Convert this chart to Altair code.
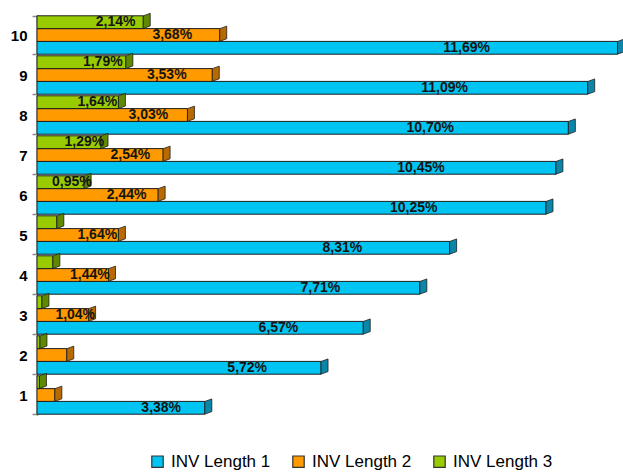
import altair as alt
import pandas as pd

categories = ["1", "2", "3", "4", "5", "6", "7", "8", "9", "10"]
series_names = ["INV Length 1", "INV Length 2", "INV Length 3"]
length1 = [3.38, 5.72, 6.57, 7.71, 8.31, 10.25, 10.45, 10.70, 11.09, 11.69]
length2 = [0.36, 0.60, 1.04, 1.44, 1.64, 2.44, 2.54, 3.03, 3.53, 3.68]
length3 = [0.05, 0.06, 0.10, 0.32, 0.40, 0.95, 1.29, 1.64, 1.79, 2.14]
colors = ["#00C4F2", "#FF9A00", "#99CC00"]
cap_colors = ["#0a86a8", "#b86a00", "#5f8a00"]

rows = []
for name, vals in zip(series_names, [length1, length2, length3]):
    for c, v in zip(categories, vals):
        rows.append({"cat": c, "series": name, "value": v})
df = pd.DataFrame(rows)

cat_order = list(reversed(categories))
offset_order = list(reversed(series_names))

y_enc = alt.Y(
    "cat:N",
    sort=cat_order,
    title=None,
    scale=alt.Scale(paddingInner=0.04, paddingOuter=0.02),
    axis=alt.Axis(
        labelFont="Liberation Sans",
        labelFontSize=15,
        labelFontWeight="bold",
        labelColor="#000000",
        labelPadding=5,
        domainColor="#8c8c8c",
        domainWidth=2,
        tickColor="#8c8c8c",
        tickWidth=1.5,
        tickSize=5,
        tickBand="extent",
        grid=False,
    ),
)
yoff_enc = alt.YOffset("series:N", sort=offset_order)
x_scale = alt.Scale(domain=[0, 11.8], nice=False, zero=True)

base = alt.Chart(df)

bars = base.mark_bar(stroke="#1e1e1e", strokeWidth=1).encode(
    x=alt.X("value:Q", scale=x_scale, axis=None),
    y=y_enc,
    yOffset=yoff_enc,
    color=alt.Color(
        "series:N",
        scale=alt.Scale(domain=series_names, range=colors),
        legend=alt.Legend(
            title=None,
            orient="none",
            legendX=112,
            legendY=438,
            direction="horizontal",
            symbolType="square",
            symbolSize=130,
            symbolStrokeColor="#333333",
            symbolStrokeWidth=1.2,
            labelFont="Liberation Sans",
            labelFontSize=17,
            labelColor="#000000",
            labelOffset=5,
            columnPadding=19,
        ),
    ),
)

caps = base.mark_point(
    filled=True,
    shape="M0,1 L0,-1 L1.1,-1.4 L1.1,0.6 Z",
    size=160,
    stroke="#1e1e1e",
    strokeWidth=0.8,
    opacity=1,
).encode(
    x=alt.X("value:Q", scale=x_scale, axis=None),
    y=y_enc,
    yOffset=yoff_enc,
    fill=alt.Fill(
        "series:N",
        scale=alt.Scale(domain=series_names, range=cap_colors),
        legend=None,
    ),
)

labels = (
    base.transform_filter("datum.value >= 0.9")
    .transform_calculate(
        lx="datum.value * 0.74",
        txt="replace(format(datum.value, '.2f'), '.', ',') + '%'",
    )
    .mark_text(
        font="Liberation Sans",
        fontSize=14,
        fontWeight="bold",
        color="#141414",
        baseline="middle",
        align="center",
    )
    .encode(
        x=alt.X("lx:Q", scale=x_scale, axis=None),
        y=y_enc,
        yOffset=yoff_enc,
        text="txt:N",
    )
)

chart = (
    alt.layer(bars, caps, labels)
    .resolve_scale(color="independent", fill="independent")
    .properties(
        width=586,
        height=400,
        autosize=alt.AutoSizeParams(type="none"),
        padding={"left": 37, "top": 15, "right": 0, "bottom": 57},
        background="#ffffff",
    )
    .configure_view(stroke=None)
)

chart.save("out.html", embed_options={"renderer": "svg", "actions": False})
